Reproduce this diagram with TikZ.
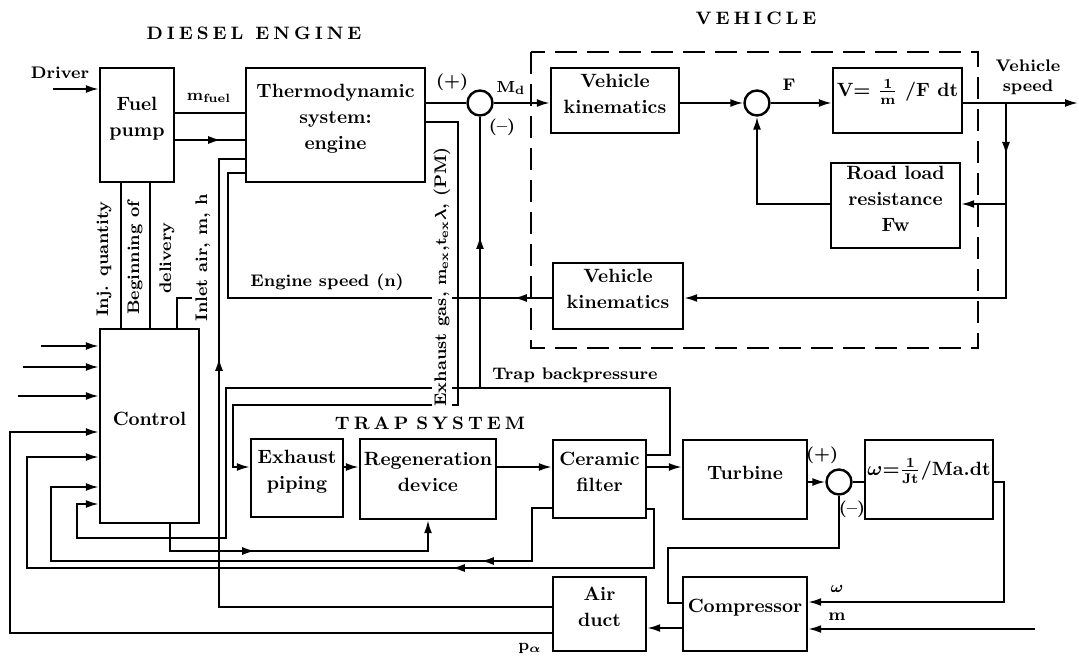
\documentclass[tikz,border=0pt]{standalone}
\usetikzlibrary{arrows.meta,decorations.markings,fit}
\newcommand\myboxfont{\fontsize{9.6}{13}\selectfont\bfseries\boldmath}
\newcommand\mylblfont{\fontsize{8.4}{10}\selectfont\bfseries\boldmath}
\newcommand\myttlfont{\fontsize{9}{11}\selectfont\bfseries}
\newcommand\myls{\hspace{2pt}}
\begin{document}
\begin{tikzpicture}[x=0.5pt,y=-0.5pt,
  ln/.style={line width=1pt},
  arr/.style={ln,-{Latex[length=6.5pt,width=4pt]}},
  marr/.style={postaction={decorate},decoration={markings,mark=at position #1 with {\arrow{Latex[length=6.5pt,width=4pt]}}}},
  box/.style={draw,line width=1.2pt,inner sep=0pt,align=center,font=\myboxfont},
  sum/.style={draw,circle,line width=1.2pt,minimum size=12.5pt,inner sep=0pt},
  lbl/.style={font=\mylblfont,inner sep=1pt,align=center},
  ttl/.style={font=\myttlfont,inner sep=0pt},
  dashbox/.style={line width=1pt,dash pattern=on 11pt off 5pt}]
\useasboundingbox (0,0) rectangle (1079,657);

% titles
\node[ttl] (tdiesel) at (254,33) {D\myls I\myls E\myls S\myls E\myls L\myls\myls\myls E\myls N\myls G\myls I\myls N\myls E};
\node[ttl] (tveh) at (756,18) {V\myls E\myls H\myls I\myls C\myls L\myls E};
\node[ttl] (ttrap) at (430,423) {T\myls R\myls A\myls P\myls\myls S\myls Y\myls S\myls T\myls E\myls M};

% vehicle frame
\draw[dashbox] (531,52) rectangle (978,348);

% boxes
\node[box,fit={(100,68) (174,182)}] (fuel) {Fuel\\pump};
\node[box,fit={(246,68) (425,182)}] (thermo) {Thermodynamic\\system:\\engine};
\node[box,fit={(551,68) (679,133)}] (vk1) {Vehicle\\kinematics};
\node[box,fit={(833,68) (962,133)}] (vbox) {V= $\frac{\mathbf{1}}{\mathbf{m}}$ /F dt};
\node[box,fit={(831,163) (960,248)}] (road) {Road load\\resistance\\Fw};
\node[box,fit={(553,263) (683,329)}] (vk2) {Vehicle\\kinematics};
\node[box,fit={(100,329) (199,523)}] (control) {Control};
\node[box,fit={(251,439) (343,517)}] (exh) {Exhaust\\piping};
\node[box,fit={(360,439) (496,519)}] (regen) {Regeneration\\device};
\node[box,fit={(553,440) (646,518)}] (cer) {Ceramic\\filter};
\node[box,fit={(683,440) (807,519)}] (turb) {Turbine};
\node[box,fit={(865,440) (993,519)}] (omega) {$\omega$=$\frac{\mathbf{1}}{\mathbf{Jt}}$/Ma.dt};
\node[box,fit={(683,577) (807,651)}] (comp) {Compressor};
\node[box,fit={(553,577) (646,651)}] (air) {Air\\duct};

% summing points
\node[sum] (c1) at (480,103) {};
\node[sum] (c2) at (757,103) {};
\node[sum] (c3) at (839,482) {};

% free ends
\coordinate (drv) at (53,89);
\coordinate (vout) at (1078,103);
\coordinate (sp) at (1006,103);
\coordinate (spr) at (1006,204);
\coordinate (bp) at (480,388);
\coordinate (in1) at (41,346);
\coordinate (in2) at (23,367);
\coordinate (in3) at (18,396);
\coordinate (min) at (1035,629);

% engine side
\draw[arr] (drv) -- (fuel.west |- drv);
\draw[ln] (fuel.east |- 0,113) -- (thermo.west |- 0,113);
\draw[ln,marr=23pt] (fuel.east |- 0,140) -- (thermo.west |- 0,140);
\draw[ln,marr=291pt] (air.west |- 0,607) -| (219,159) -- (thermo.west |- 0,159);
\draw[ln,marr=19pt] (vk2.west |- 0,298) -| (228,173) -- (thermo.west |- 0,173);
\draw[ln] (control.north -| 177,0) |- (192,298);
\draw[ln] (fuel.south -| 121,0) -- (control.north -| 121,0);
\draw[ln] (fuel.south -| 150,0) -- (control.north -| 150,0);

% torque path and vehicle
\draw[ln] (thermo.east |- c1) -- (c1.west);
\draw[arr] (c1.east) -- (vk1.west |- c1);
\draw[arr] (vk1.east |- c2) -- (c2.west);
\draw[arr] (c2.east) -- (vbox.west |- c2);
\draw[arr] (vbox.east |- c2) -- (vout);
\draw[arr,marr=26pt] (sp) |- (vk2.east |- 0,298);
\draw[arr] (spr) -- (road.east |- spr);
\draw[arr] (road.west |- spr) -| (c2.south);

% exhaust and trap system
\draw[arr] (thermo.east |- 0,122) -| (458,405) -| (233,467) -- (exh.west |- 0,467);
\draw[arr] (exh.east |- 0,467) -- (regen.west |- 0,467);
\draw[arr] (regen.east |- 0,467) -- (cer.west |- 0,467);
\draw[arr] (cer.east |- 0,467) -- (turb.west |- 0,467);
\draw[arr] (cer.east |- 0,455) -| (670,388) -- (226,388) -- (226,538) -| (77,504) -- (control.west |- 0,504);
\draw[ln,marr=76pt] (bp) -- (c1.south);
\draw[arr,marr=56pt] (control.south -| 170,0) |- (regen.south |- 0,551) -- (regen.south);
\draw[arr,marr=62pt] (cer.west |- 0,508) -| (532,561) -| (51,487) -- (control.west |- 0,487);
\draw[arr,marr=134pt] (cer.east |- 0,509) -| (654,568) -| (27,457) -- (control.west |- 0,457);
\draw[arr] (air.west |- 0,633) -| (10,432) -- (control.west |- 0,432);
\draw[arr] (in1) -- (control.west |- in1);
\draw[arr] (in2) -- (control.west |- in2);
\draw[arr] (in3) -- (control.west |- in3);

% turbocharger
\draw[arr] (turb.east |- c3) -- (c3.west);
\draw[ln] (c3.east) -- (omega.west |- c3);
\draw[arr] (omega.east |- c3) -| (1004,602) -- (comp.east |- 0,602);
\draw[ln] (comp.west |- 0,603) -| (668,548) -| (c3.south);
\draw[arr] (min) -- (comp.east |- min);
\draw[arr] (comp.west |- 0,628) -- (air.east |- 0,628);

% labels
\node[lbl] (ldriver) at (60,73) {Driver};
\node[lbl] (lmfuel) at (209,98) {$\mathbf{m_{fuel}}$};
\node[lbl] (lp1) at (452,82) {(+)};
\node[lbl] (lmd) at (511,88) {$\mathbf{M_d}$};
\node[lbl] (lm1) at (502,127) {(--)};
\node[lbl] (lf) at (789,85) {F};
\node[lbl] (lvs) at (1028,77) {Vehicle\\speed};
\node[lbl] (les) at (327,282) {Engine speed (n)};
\node[lbl] (ltb) at (575,375) {Trap backpressure};
\node[lbl,rotate=90] (linj) at (104,259) {Inj. quantity};
\node[lbl,rotate=90] (lbeg) at (135,258) {Beginning of};
\node[lbl,rotate=90] (ldel) at (167,258) {delivery};
\node[lbl,rotate=90] (linl) at (203,258) {Inlet air, m, h};
\node[lbl,rotate=90,fill=white] (lexg) at (442,277) {Exhaust gas, $\mathbf{m_{ex}}$,$\mathbf{t_{ex}}\lambda$, (PM)};
\node[lbl] (lp3) at (822,455) {(+)};
\node[lbl] (lm3) at (852,509) {(--)};
\node[lbl] (lw) at (837,589) {$\omega$};
\node[lbl] (lm) at (837,617) {m};
\node[lbl] (lpa) at (530,648) {$\mathbf{p}_\alpha$};
\end{tikzpicture}
\end{document}
